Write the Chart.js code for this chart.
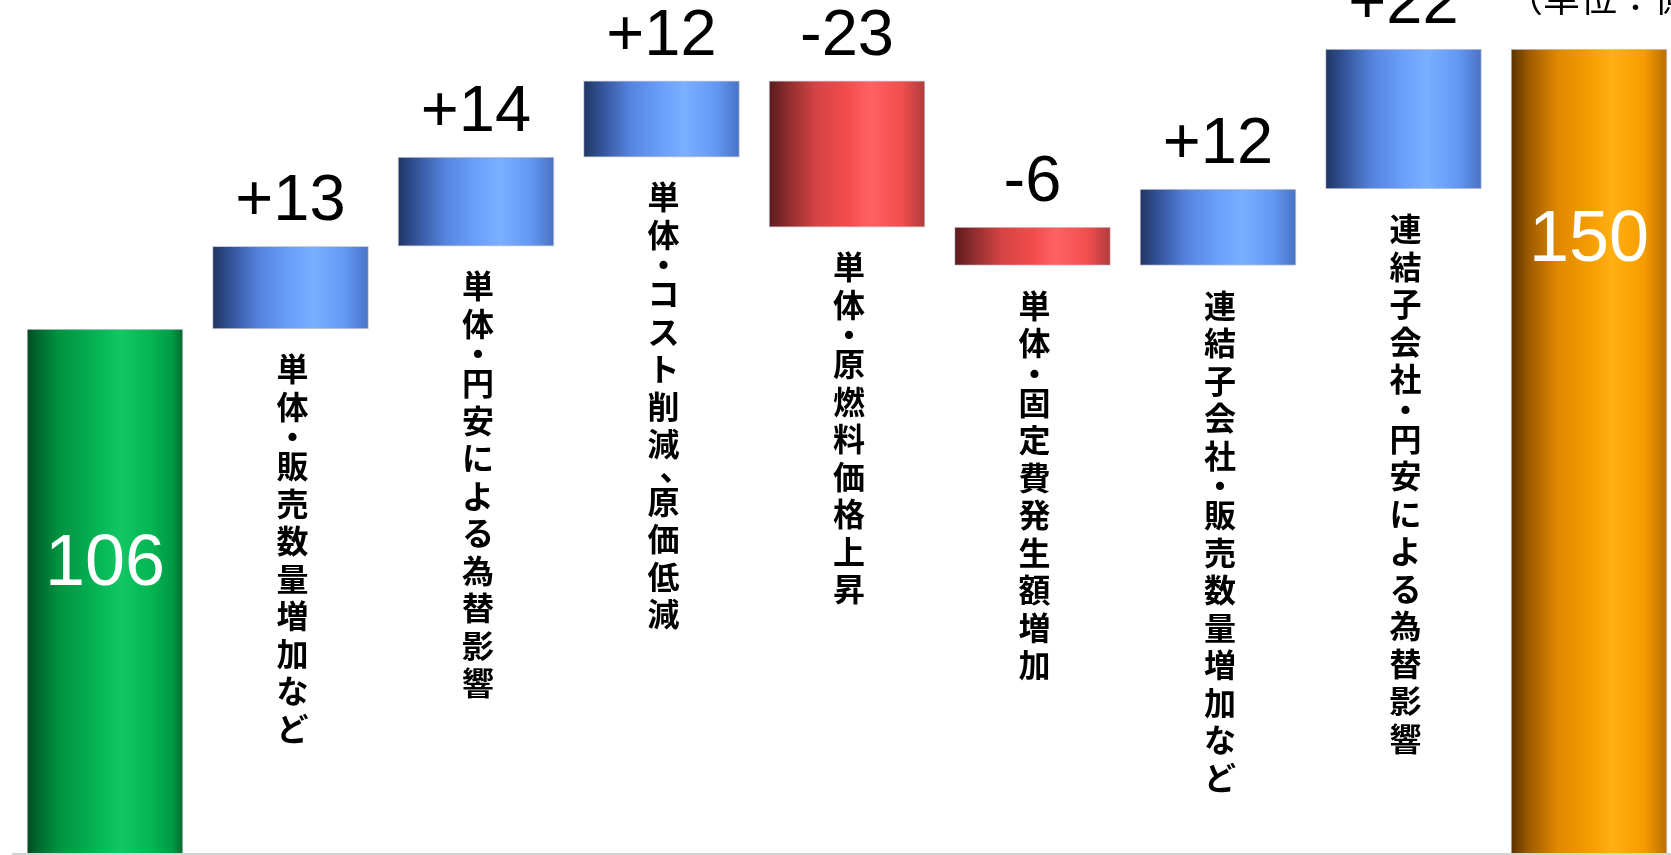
<!DOCTYPE html>
<html lang="ja">
<head>
<meta charset="utf-8">
<title>経常利益 増減要因</title>
<script src="https://cdn.jsdelivr.net/npm/chart.js@4.4.1/dist/chart.umd.min.js"></script>
<style>
    html, body { margin: 0; padding: 0; background: #fff; overflow: hidden; }
    #wrap { width: 1671px; height: 855px; position: relative; }
</style>
</head>
<body>
<div id="wrap"><canvas id="waterfall" width="1671" height="855"></canvas></div>
<script>
// 項目名（縦書き）
const categories = [
    '',
    '単体・販売数量増加など',
    '単体・円安による為替影響',
    '単体・コスト削減、原価低減',
    '単体・原燃料価格上昇',
    '単体・固定費発生額増加',
    '連結子会社・販売数量増加など',
    '連結子会社・円安による為替影響',
    ''
];
// 先頭と末尾は合計、間は増減
const values = [106, 13, 14, 12, -23, -6, 12, 22, 150];
const unitText = '（単位：億円）';
// 縦軸の表示範囲（図は下端で切れている）
const yMin = 23.35;
const yMax = 157.7;

(function () {

    const X_MIN = -105 / 185.5;
    const X_MAX = (1671 - 105) / 185.5;
    const BAR_W = 156;

    /**
     * 初期化
     */
    function init() {
        let ranges = buildRanges();
        drawChart(ranges);
    }

    /**
     * 各棒の [下端, 上端]
     */
    function buildRanges() {
        let out = [];
        let sum = 0;
        values.forEach(function (v, i) {
            if (i === 0 || i === values.length - 1) {
                out.push({ x: i, y: [0, v] });
                sum = v;
            } else {
                out.push({ x: i, y: [sum, sum + v] });
                sum += v;
            }
        });
        return out;
    }

    function barKind(i) {
        if (i === 0) return 'start';
        if (i === values.length - 1) return 'end';
        return values[i] >= 0 ? 'up' : 'down';
    }

    const stops = {
        start: [[0, '#004a1f'], [0.08, '#006c30'], [0.2, '#009240'], [0.45, '#06b455'], [0.6, '#10c864'], [0.8, '#05b452'], [0.93, '#009a45'], [1, '#006a2c']],
        up:    [[0, '#1f3563'], [0.12, '#34549a'], [0.3, '#5584de'], [0.5, '#6a9ffc'], [0.65, '#7ab0ff'], [0.85, '#6298f4'], [1, '#4a72c4']],
        down:  [[0, '#5c1a1c'], [0.12, '#8e2c2e'], [0.3, '#d44444'], [0.5, '#f24c4c'], [0.65, '#ff6262'], [0.85, '#f24e4e'], [1, '#b03c3c']],
        end:   [[0, '#5a3300'], [0.12, '#a05c00'], [0.3, '#e08800'], [0.5, '#f59c00'], [0.65, '#ffb012'], [0.85, '#f79c00'], [1, '#b86e00']]
    };

    //円柱風のグラデーション
    function barFill(c) {
        if (c.type !== 'data') return '#6a9ffc';
        let chart = c.chart;
        let cx = chart.scales.x ? chart.scales.x.getPixelForValue(c.dataIndex) : NaN;
        if (!isFinite(cx)) {
            cx = (c.dataIndex - X_MIN) / (X_MAX - X_MIN) * chart.width;
        }
        let g = chart.ctx.createLinearGradient(cx - BAR_W / 2, 0, cx + BAR_W / 2, 0);
        stops[barKind(c.dataIndex)].forEach(function (s) {
            g.addColorStop(s[0], s[1]);
        });
        return g;
    }

    /**
     * 文字・軸線
     */
    const labelPlugin = {
        id: 'waterfallLabels',
        afterDatasetsDraw: function (chart) {
            let ctx = chart.ctx;
            let meta = chart.getDatasetMeta(0);
            let area = chart.chartArea;

            ctx.save();

            // 下端の線
            ctx.strokeStyle = '#d4d4d4';
            ctx.lineWidth = 2;
            ctx.beginPath();
            ctx.moveTo(12, area.bottom - 1);
            ctx.lineTo(area.right, area.bottom - 1);
            ctx.stroke();

            meta.data.forEach(function (bar, i) {
                let top = Math.min(bar.y, bar.base);
                let bottom = Math.max(bar.y, bar.base);
                let kind = barKind(i);

                if (kind === 'start' || kind === 'end') {
                    ctx.fillStyle = '#ffffff';
                    ctx.font = '72px "Liberation Sans", Arial, sans-serif';
                    ctx.textAlign = 'center';
                    ctx.textBaseline = 'middle';
                    let off = kind === 'start' ? 236 : 192;
                    ctx.fillText(String(values[i]), bar.x, top + off);
                    return;
                }

                // 増減値
                let txt = (values[i] > 0 ? '+' : '') + values[i];
                ctx.fillStyle = '#000000';
                ctx.font = '65px "Liberation Sans", Arial, sans-serif';
                ctx.textAlign = 'center';
                ctx.textBaseline = 'alphabetic';
                ctx.fillText(txt, bar.x, top - 26);

                // 縦書きの項目名
                ctx.font = 'bold 32px "Noto Sans CJK JP", sans-serif';
                ctx.textBaseline = 'top';
                let cy = bottom + 24;
                Array.from(categories[i]).forEach(function (ch) {
                    if (ch === '・') {
                        ctx.fillText(ch, bar.x + 2, cy - 7);
                        cy += 22;
                    } else if (ch === '、') {
                        ctx.fillText(ch, bar.x + 2 + 12, cy - 14);
                        cy += 20;
                    } else {
                        ctx.fillText(ch, bar.x + 2, cy);
                        cy += 37.5;
                    }
                });
            });

            // 単位
            ctx.fillStyle = '#000000';
            ctx.font = '37px "Noto Sans CJK JP", sans-serif';
            ctx.textAlign = 'left';
            ctx.textBaseline = 'alphabetic';
            ctx.fillText(unitText, 1506, 12);

            ctx.restore();
        }
    };

    function drawChart(ranges) {
        let cvs = document.getElementById('waterfall').getContext('2d');
        new Chart(cvs, {
            type: 'bar',
            data: {
                datasets: [{
                    data: ranges,
                    backgroundColor: barFill,
                    borderColor: 'rgba(190,190,205,0.8)',
                    borderWidth: 1,
                    borderSkipped: false,
                    barThickness: BAR_W
                }]
            },
            options: {
                responsive: false,
                animation: false,
                devicePixelRatio: 1,
                layout: { padding: 0 },
                plugins: {
                    legend: { display: false },
                    tooltip: { enabled: false }
                },
                scales: {
                    x: {
                        type: 'linear',
                        display: false,
                        offset: false,
                        min: X_MIN,
                        max: X_MAX
                    },
                    y: {
                        display: false,
                        min: yMin,
                        max: yMax
                    }
                }
            },
            plugins: [labelPlugin]
        });
    }

    init();

})();
</script>
</body>
</html>
